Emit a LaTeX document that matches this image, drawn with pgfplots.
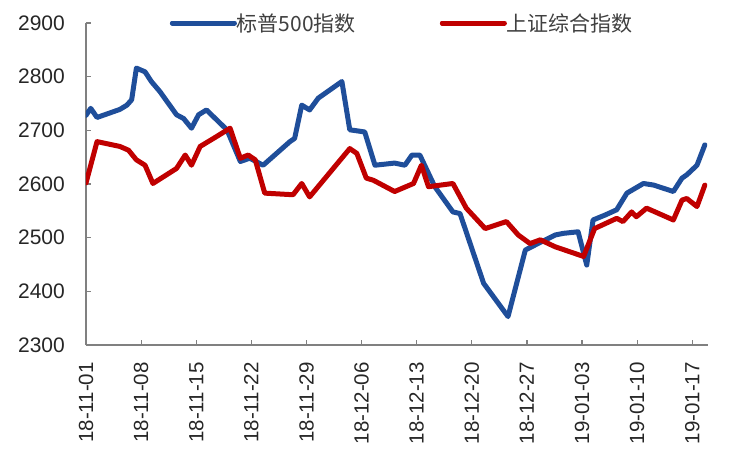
\documentclass[border=0pt]{standalone}
\usepackage{fontspec}
\setmainfont{Liberation Sans}
\newfontfamily\cjk{Noto Sans CJK SC}
\usepackage{pgfplots}
\pgfplotsset{compat=1.18}

\definecolor{spblue}{HTML}{1F4E9A}
\definecolor{shred}{HTML}{C00000}
\definecolor{axgray}{HTML}{808080}
\definecolor{txt}{HTML}{262626}
\definecolor{legtxt}{HTML}{404040}

\begin{document}
\begin{tikzpicture}
\useasboundingbox (-86pt,-106pt) rectangle (650pt,345pt);
\begin{axis}[
    at={(0pt,0pt)}, anchor=south west,
    scale only axis, width=622pt, height=322pt,
    xmin=0, xmax=79, ymin=2300, ymax=2900,
    axis x line=bottom, axis y line=left,
    axis line style={-, draw=axgray, line width=1.2pt},
    xtick={0,7,...,77},
    xticklabels={18-11-01,18-11-08,18-11-15,18-11-22,18-11-29,18-12-06,18-12-13,18-12-20,18-12-27,19-01-03,19-01-10,19-01-17},
    ytick={2300,2400,...,2900},
    tick align=inside, major tick length=5pt,
    tick style={draw=axgray, line width=1.2pt},
    /pgf/number format/assume math mode=true,
    /pgf/number format/1000 sep={},
    xticklabel style={rotate=90, anchor=east, inner sep=0pt, text=txt,
        font=\fontsize{20.5}{24}\selectfont},
    xticklabel shift=17pt,
    yticklabel style={anchor=east, inner sep=0pt, text=txt,
        font=\fontsize{21}{25}\selectfont},
    yticklabel shift=21pt,
    legend columns=2,
    legend style={at={(0.135,1.0)}, anchor=west, draw=none, fill=none,
        inner sep=0pt, outer sep=0pt, text=legtxt,
        font=\cjk\fontsize{21}{25}\selectfont,
        nodes={inner sep=0pt},
        /tikz/every even column/.append style={column sep=84pt}},
    legend image code/.code={
        \draw[#1, line width=5pt, line cap=round] (0pt,0pt) -- (57pt,0pt);
        \path (0pt,0pt) -- (62pt,0pt);},
    every axis plot/.append style={line width=5pt, line join=round, line cap=round},
]
\addplot[spblue] coordinates {
(0,2728) (0.6,2741) (1.4,2724) (4.3,2739) (5.2,2747) (5.8,2757) (6.4,2816)
(7.5,2809) (8.3,2791) (9.4,2772) (11.5,2729) (12.4,2722) (13.4,2704)
(14.3,2729) (15.3,2738) (17.9,2701) (19.6,2642) (20.8,2648) (22.5,2635)
(25.9,2679) (26.5,2685) (27.4,2747) (28.4,2738) (29.5,2760) (32.5,2791)
(33.5,2701) (35.4,2697) (36.7,2635) (39.2,2639) (40.5,2635) (41.4,2654)
(42.4,2654) (44.3,2595) (46.6,2548) (47.5,2545) (50.5,2415) (53.6,2353)
(55.8,2477) (57.4,2489) (59.6,2505) (60.6,2508) (62.5,2511) (63.6,2449)
(64.4,2533) (65.9,2542) (67.4,2552) (68.7,2583) (70.8,2601) (72.1,2598)
(74.6,2586) (75.7,2611) (76.3,2617) (77.6,2635) (78.6,2673)
};
\addlegendentry{标普500指数}
\addplot[shred] coordinates {
(0,2602) (1.4,2679) (4.3,2670) (5.4,2663) (6.4,2645) (7.5,2635) (8.5,2601)
(11.5,2629) (12.6,2654) (13.4,2635) (14.5,2670) (16.2,2685) (18.3,2704)
(19.6,2648) (20.6,2654) (21.5,2645) (22.7,2583) (26.3,2580) (27.4,2601)
(28.4,2576) (33.5,2666) (34.4,2657) (35.6,2611) (36.5,2607) (39.2,2586)
(41.6,2601) (42.6,2635) (43.5,2595) (46.6,2601) (48.3,2555) (50.7,2517)
(53.4,2530) (54.9,2505) (56.4,2489) (57.7,2496) (59.6,2483) (63.2,2465)
(64.6,2517) (67.4,2536) (68.2,2530) (69.3,2548) (69.9,2539) (71.2,2555)
(74.6,2533) (75.7,2570) (76.3,2573) (77.6,2558) (78.6,2598)
};
\addlegendentry{上证综合指数}
\end{axis}
\end{tikzpicture}
\end{document}
